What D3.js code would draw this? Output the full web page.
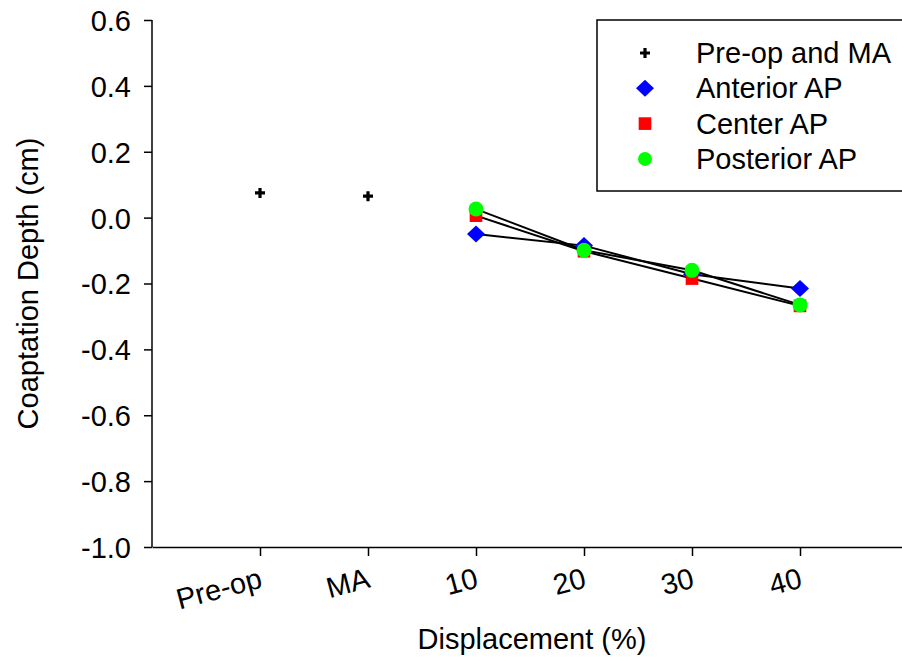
<!DOCTYPE html>
<html>
<head>
<meta charset="utf-8">
<script src="https://cdn.jsdelivr.net/npm/d3@7"></script>
<style>
  body { margin: 0; background: #fff; }
  text { font-family: "Liberation Sans", Arial, sans-serif; fill: #000; }
</style>
</head>
<body>
<div id="chart"></div>
<script>
// categories along the x axis
var categories = ["Pre-op", "MA", "10", "20", "30", "40"];
var yTicks = [0.6, 0.4, 0.2, 0.0, -0.2, -0.4, -0.6, -0.8, -1.0];

// series values
var preopMA = [0.075, 0.065];           // at Pre-op, MA
var anteriorAP = [-0.05, -0.085, -0.172, -0.215];   // at 10..40
var centerAP = [0.006, -0.102, -0.185, -0.268];
var posteriorAP = [0.026, -0.099, -0.160, -0.265];

var chartW = 902, chartH = 660;
var mLeft = 152, mBottom = 547, mTop = 20;

var svg = d3.select("#chart").append("svg")
  .attr("width", chartW).attr("height", chartH);

var x = d3.scaleLinear().domain([-1, 6]).range([mLeft, mLeft + 7 * 108]);
var y = d3.scaleLinear().domain([-1.0, 0.6]).range([mBottom, mTop]);

// Y axis
var yAxis = svg.append("g")
  .attr("transform", "translate(" + mLeft + ",0)")
  .call(d3.axisLeft(y).tickValues(yTicks).tickSize(8).tickPadding(13)
    .tickFormat(function(d) { return d.toFixed(1); }));
yAxis.select(".domain").attr("stroke-width", 1.5).attr("d", "M0," + mTop + "V" + mBottom);
yAxis.selectAll(".tick line").attr("stroke-width", 1.5);
yAxis.selectAll(".tick text").style("font-size", "29px").attr("dy", "0.36em");

// X axis
var xAxis = svg.append("g")
  .attr("transform", "translate(0," + mBottom + ")")
  .call(d3.axisBottom(x).tickValues(d3.range(categories.length)).tickSize(9)
    .tickSizeOuter(0)
    .tickFormat(function(d) { return categories[d]; }));
xAxis.select(".domain").attr("stroke-width", 1.5);
xAxis.selectAll(".tick line").attr("stroke-width", 1.5);
xAxis.selectAll(".tick text")
  .style("font-size", "29px")
  .attr("text-anchor", "end")
  .attr("y", 0).attr("dy", 0)
  .attr("transform", "translate(3,40) rotate(-15)");

// axis titles
svg.append("text")
  .attr("transform", "translate(38," + ((mTop + mBottom) / 2) + ") rotate(-90)")
  .attr("text-anchor", "middle")
  .style("font-size", "29px")
  .text("Coaptation Depth (cm)");
svg.append("text")
  .attr("x", 532).attr("y", 649)
  .attr("text-anchor", "middle")
  .style("font-size", "29px")
  .text("Displacement (%)");

// lines
var line = d3.line()
  .x(function(d, i) { return x(i + 2); })
  .y(function(d) { return y(d); });
[anteriorAP, centerAP, posteriorAP].forEach(function(s) {
  svg.append("path").datum(s)
    .attr("d", line)
    .attr("fill", "none")
    .attr("stroke", "#000")
    .attr("stroke-width", 2);
});

var cross = "M-1.6,-5H1.6V-1.6H5V1.6H1.6V5H-1.6V1.6H-5V-1.6H-1.6Z";
var diamond = "M0,-8.5L9,0L0,8.5L-9,0Z";
var square = d3.symbol().type(d3.symbolSquare).size(160);

// markers
svg.selectAll(".pre").data(preopMA).enter().append("path")
  .attr("d", cross)
  .attr("transform", function(d, i) { return "translate(" + x(i) + "," + y(d) + ")"; })
  .attr("fill", "#000");

svg.selectAll(".ant").data(anteriorAP).enter().append("path")
  .attr("d", diamond)
  .attr("transform", function(d, i) { return "translate(" + x(i + 2) + "," + y(d) + ")"; })
  .attr("fill", "#0000ff");

svg.selectAll(".cen").data(centerAP).enter().append("path")
  .attr("d", square)
  .attr("transform", function(d, i) { return "translate(" + x(i + 2) + "," + y(d) + ")"; })
  .attr("fill", "#ff0000");

svg.selectAll(".pos").data(posteriorAP).enter().append("circle")
  .attr("cx", function(d, i) { return x(i + 2); })
  .attr("cy", function(d) { return y(d); })
  .attr("r", 7.5)
  .attr("fill", "#00ff00");

// legend
var legendNames = ["Pre-op and MA", "Anterior AP", "Center AP", "Posterior AP"];
var lg = svg.append("g").attr("transform", "translate(597,20)");
lg.append("rect")
  .attr("x", 0).attr("y", 0).attr("width", 320).attr("height", 171)
  .attr("fill", "#fff").attr("stroke", "#000").attr("stroke-width", 1.5);
legendNames.forEach(function(name, i) {
  var cy = 33 + i * 35.3;
  var g = lg.append("g").attr("transform", "translate(48," + cy + ")");
  if (i === 0) g.append("path").attr("d", cross).attr("fill", "#000");
  if (i === 1) g.append("path").attr("d", diamond).attr("fill", "#0000ff");
  if (i === 2) g.append("path").attr("d", square).attr("fill", "#ff0000");
  if (i === 3) g.append("circle").attr("r", 7).attr("fill", "#00ff00");
  lg.append("text")
    .attr("x", 99).attr("y", cy + 10)
    .style("font-size", "29px")
    .text(name);
});
</script>
</body>
</html>
